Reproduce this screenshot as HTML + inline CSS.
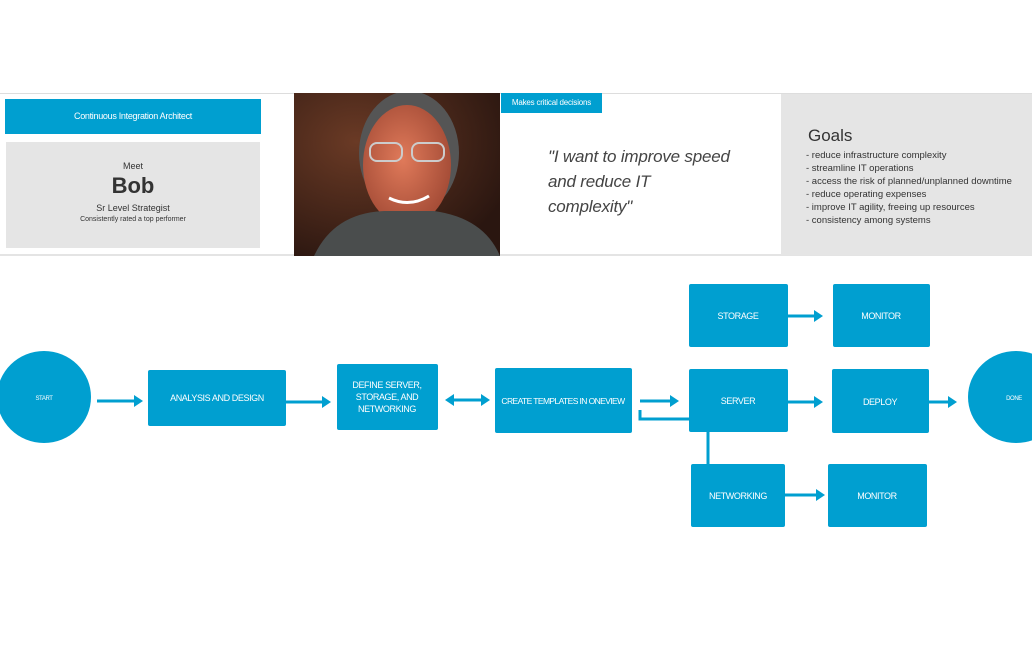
<!DOCTYPE html>
<html><head><meta charset="utf-8"><style>
body{margin:0;width:1032px;height:651px;background:#fff;position:relative;overflow:hidden;font-family:"Liberation Sans",sans-serif}
.a{position:absolute}
</style></head><body>
<div class="a" style="left:0;top:93px;width:1032px;height:163px;border-top:1px solid #ddd;border-bottom:2px solid #e4e4e4;box-sizing:border-box"></div>
<div class="a" style="left:5px;top:99px;width:256px;height:35px;background:#009fd0;color:#fff;font-size:9px;text-align:center;line-height:35px;letter-spacing:-0.3px">Continuous Integration Architect</div>
<div class="a" style="left:6px;top:142px;width:254px;height:106px;background:#e5e5e5;text-align:center;color:#333">
<div style="font-size:9px;margin-top:19px">Meet</div>
<div style="font-size:22px;font-weight:bold;margin-top:2px">Bob</div>
<div style="font-size:9px;margin-top:4px">Sr Level Strategist</div>
<div style="font-size:7px;margin-top:3px">Consistently rated a top performer</div></div>
<svg class="a" style="left:294px;top:93px" width="206" height="163">
<defs><radialGradient id="bg" cx="0.3" cy="0.3" r="0.8"><stop offset="0" stop-color="#6a3a25"/><stop offset="1" stop-color="#2a1610"/></radialGradient>
<radialGradient id="f" cx="0.45" cy="0.45" r="0.6"><stop offset="0" stop-color="#e07a5a"/><stop offset="1" stop-color="#a24a35"/></radialGradient></defs>
<rect width="206" height="163" fill="url(#bg)"/>
<ellipse cx="115" cy="60" rx="50" ry="62" fill="#555"/>
<ellipse cx="113" cy="72" rx="44" ry="60" fill="url(#f)"/>
<path d="M20 163 Q40 120 90 118 L140 118 Q190 125 206 163Z" fill="#4a4d4d"/>
<rect x="76" y="50" width="32" height="18" rx="7" fill="none" stroke="#ccc" stroke-width="2"/>
<rect x="118" y="50" width="32" height="18" rx="7" fill="none" stroke="#ccc" stroke-width="2"/>
<path d="M95 105 Q115 115 135 103" stroke="#fff" stroke-width="3" fill="none"/>
</svg>
<div class="a" style="left:501px;top:93px;width:101px;height:20px;background:#009fd0;color:#fff;font-size:8px;line-height:20px;text-align:center;letter-spacing:-0.2px">Makes critical decisions</div>
<div class="a" style="left:548px;top:144px;font-size:17px;font-style:italic;color:#444;line-height:25px;letter-spacing:-0.2px">"I want to improve speed<br>and reduce IT<br>complexity"</div>
<div class="a" style="left:781px;top:94px;width:251px;height:161px;background:#e5e5e5;color:#333">
<div style="font-size:17px;margin:32px 0 0 27px">Goals</div>
<div style="font-size:9.5px;margin-left:25px;line-height:13px;margin-top:3px">- reduce infrastructure complexity<br>- streamline IT operations<br>- access the risk of planned/unplanned downtime<br>- reduce operating expenses<br>- improve IT agility, freeing up resources<br>- consistency among systems</div></div>
<svg class="a" style="left:0;top:0" width="1032" height="651" font-family="Liberation Sans" font-size="9" fill="#fff" text-anchor="middle" letter-spacing="-0.4">
<g fill="#009fd0">
<ellipse cx="44" cy="397" rx="47" ry="46"/>
<ellipse cx="1016" cy="397" rx="48" ry="46"/>
<rect x="148" y="370" width="138" height="56" rx="2"/>
<rect x="337" y="364" width="101" height="66" rx="2"/>
<rect x="495" y="368" width="137" height="65" rx="2"/>
<rect x="689" y="284" width="99" height="63" rx="2"/>
<rect x="833" y="284" width="97" height="63" rx="2"/>
<rect x="689" y="369" width="99" height="63" rx="2"/>
<rect x="832" y="369" width="97" height="64" rx="2"/>
<rect x="691" y="464" width="94" height="63" rx="2"/>
<rect x="828" y="464" width="99" height="63" rx="2"/>
</g>
<g stroke="#009fd0" stroke-width="3" fill="none">
<path d="M97 401H136M286 402H324M452 400H483M640 401H672M788 316H816M788 402H816M929 402H950M785 495H818M640 410V419H689M708 432V465"/>
</g>
<g fill="#009fd0">
<path d="M134 395L143 401L134 407Z"/><path d="M322 396L331 402L322 408Z"/>
<path d="M481 394L490 400L481 406Z"/><path d="M454 394L445 400L454 406Z"/>
<path d="M670 395L679 401L670 407Z"/><path d="M814 310L823 316L814 322Z"/>
<path d="M814 396L823 402L814 408Z"/><path d="M948 396L957 402L948 408Z"/>
<path d="M816 489L825 495L816 501Z"/>
</g>
<text x="44" y="400" font-size="6">START</text>
<text x="1014" y="400" font-size="6">DONE</text>
<text x="217" y="401">ANALYSIS AND DESIGN</text>
<text x="387" y="388">DEFINE SERVER,</text><text x="387" y="400">STORAGE, AND</text><text x="387" y="412">NETWORKING</text>
<text x="563" y="404" font-size="8.5" letter-spacing="-0.6">CREATE TEMPLATES IN ONEVIEW</text>
<text x="738" y="319">STORAGE</text><text x="881" y="319">MONITOR</text>
<text x="738" y="404">SERVER</text><text x="880" y="405">DEPLOY</text>
<text x="738" y="499">NETWORKING</text><text x="877" y="499">MONITOR</text>
</svg>
</body></html>
